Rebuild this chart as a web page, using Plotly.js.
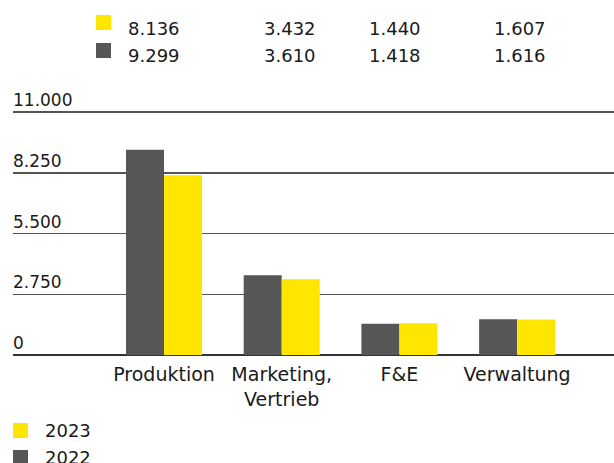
<!DOCTYPE html>
<html>
<head>
<meta charset="utf-8">
<script src="https://cdn.plot.ly/plotly-3.0.1.min.js"></script>
<style>html,body{margin:0;padding:0;background:#fff;}#chart{width:614px;height:463px;}</style>
</head>
<body>
<div id="chart"></div>
<script>
// ---- data ----
const categories = ['Produktion', 'Marketing,<br>Vertrieb', 'F&E', 'Verwaltung'];
const seriesNames = ['2022', '2023'];
const values2022 = [9299, 3610, 1418, 1616];
const values2023 = [8136, 3432, 1440, 1607];
const tableLabels2023 = ['8.136', '3.432', '1.440', '1.607'];
const tableLabels2022 = ['9.299', '3.610', '1.418', '1.616'];
const yTickVals = [0, 2750, 5500, 8250, 11000];
const yTickText = ['0', '2.750', '5.500', '8.250', '11.000'];

// ---- style ----
const W = 614, H = 463;
const L = 13, R = 0, T = 90, B = 108;
const PW = W - L - R, PH = H - T - B;
const YMAX = 12000;
const yellow = '#FFE600', gray = '#575757', ink = '#1a1a1a';
const FONT = '"DejaVu Sans", sans-serif';
const px = x => (x - L) / PW;
const py = y => (H - B - y) / PH;

const traces = [
  {type: 'bar', name: seriesNames[0], x: categories, y: values2022, marker: {color: gray}, showlegend: false, hoverinfo: 'none'},
  {type: 'bar', name: seriesNames[1], x: categories, y: values2023, marker: {color: yellow}, showlegend: false, hoverinfo: 'none'}
];

const colX = [126, 262, 367, 492];
const shapes = [];
const annotations = [];
function sq(x, y, color) {
  shapes.push({type: 'rect', xref: 'paper', yref: 'paper', x0: px(x), x1: px(x + 15), y0: py(y + 15), y1: py(y), fillcolor: color, line: {width: 0}, layer: 'above'});
}
function txt(x, y, t) {
  annotations.push({xref: 'paper', yref: 'paper', x: px(x), y: py(y), text: t, showarrow: false, xanchor: 'left', yanchor: 'middle', font: {family: FONT, size: 18, color: ink}});
}
// top value table
sq(96, 15, yellow);
sq(96, 43, gray);
tableLabels2023.forEach((t, i) => txt(colX[i], 28, t));
tableLabels2022.forEach((t, i) => txt(colX[i], 55, t));
// bottom legend
sq(13, 423, yellow);
sq(13, 450, gray);
txt(43, 430, seriesNames[1]);
txt(43, 457, seriesNames[0]);

const layout = {
  width: W, height: H,
  margin: {l: L, r: R, t: T, b: B, pad: 0},
  paper_bgcolor: '#fff', plot_bgcolor: '#fff',
  barmode: 'group', bargap: 0.354, bargroupgap: 0,
  font: {family: FONT, size: 18, color: ink},
  xaxis: {type: 'category', range: [-1.283, 3.823], showgrid: false, showline: false, ticks: '', ticklabelstandoff: 6, tickfont: {family: FONT, size: 19, color: ink}, fixedrange: true},
  yaxis: {range: [0, YMAX], tickvals: yTickVals, ticktext: yTickText, ticklabelposition: 'inside top', ticklabelstandoff: -3, showgrid: true, gridcolor: '#555', gridwidth: 1.5, zeroline: true, zerolinecolor: '#333', zerolinewidth: 2, showline: false, ticks: '', tickfont: {family: FONT, size: 17, color: ink}, fixedrange: true},
  shapes: shapes,
  annotations: annotations,
  showlegend: false
};
Plotly.newPlot('chart', traces, layout, {staticPlot: true, displayModeBar: false});
</script>
</body>
</html>
